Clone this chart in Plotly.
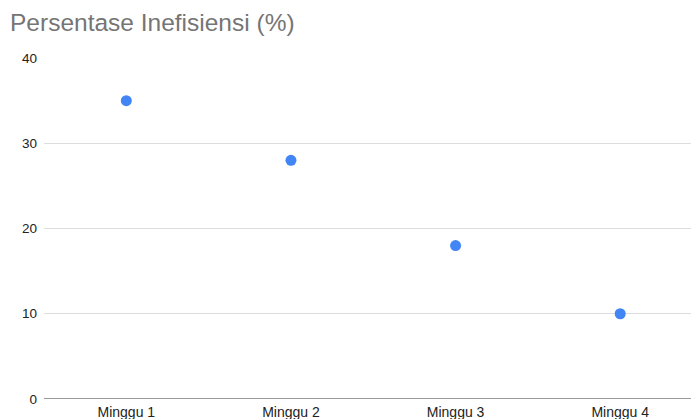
import plotly.graph_objects as go

categories = ["Minggu 1", "Minggu 2", "Minggu 3", "Minggu 4"]
values = [35, 28, 18, 10]
y_ticks = [0, 10, 20, 30, 40]

fig = go.Figure()
fig.add_trace(go.Scatter(
    x=categories, y=values, mode="markers",
    marker=dict(color="#4285F4", size=11),
    hoverinfo="x+y",
))

fig.update_layout(
    width=691, height=419,
    margin=dict(l=44, r=0, t=58, b=20, autoexpand=False),
    paper_bgcolor="white", plot_bgcolor="white",
    font=dict(family="Liberation Sans, Arial, sans-serif", color="#222222"),
    title=dict(text="Persentase Inefisiensi (%)", x=10/691, xref="container", xanchor="left",
               y=0.947, yanchor="middle",
               font=dict(size=24.5, color="#757575")),
    showlegend=False,
    xaxis=dict(range=[-0.5, 3.43], showgrid=False, zeroline=False, showline=False,
               ticks="", tickfont=dict(size=14, color="#222222"), ticklabelstandoff=3,
               fixedrange=True, automargin=False),
    yaxis=dict(range=[0, 40], tickvals=y_ticks, showgrid=True, gridcolor="#dddddd",
               gridwidth=1, zeroline=False, showline=False, ticks="", automargin=False,
               tickfont=dict(size=13.5, color="#222222"), ticklabelstandoff=6),
)
fig.add_shape(type="line", xref="paper", yref="y", x0=0, x1=1, y0=0, y1=0,
              line=dict(color="#333333", width=1), layer="below")
fig.write_html("out.html")
